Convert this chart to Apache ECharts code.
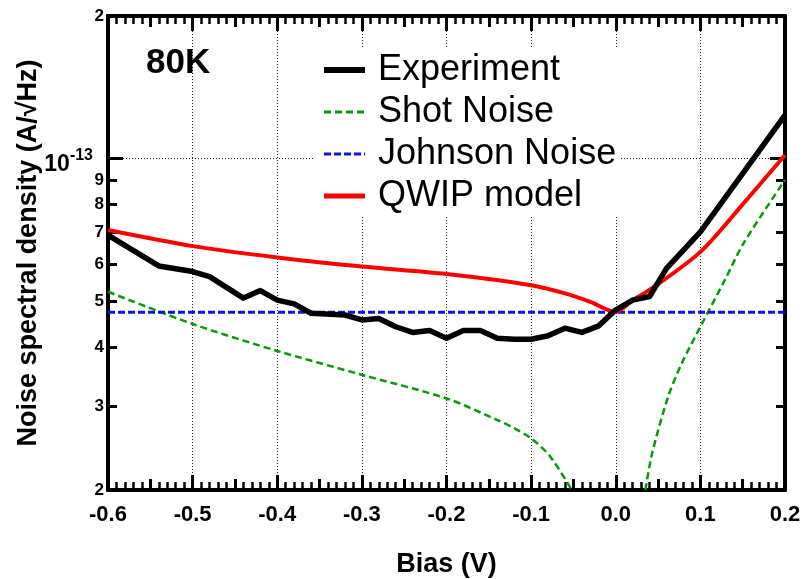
<!DOCTYPE html>
<html>
<head>
<meta charset="utf-8">
<script src="https://cdn.jsdelivr.net/npm/echarts@6/dist/echarts.min.js"></script>
<style>
  html, body { margin: 0; padding: 0; background: #fff; }
  #box { width: 805px; height: 579px; }
</style>
</head>
<body>
<div id="box"></div>
<script>
// values (noise in A/sqrt(Hz))
var expBias = [-0.6, -0.54, -0.5, -0.48, -0.44, -0.42, -0.4, -0.38, -0.36, -0.32, -0.3, -0.28, -0.26, -0.24, -0.22, -0.2, -0.18, -0.16, -0.14, -0.12, -0.1, -0.08, -0.06, -0.04, -0.02, 0, 0.02, 0.04, 0.06, 0.1, 0.2];
var expNoise = [6.9e-14, 5.94e-14, 5.78e-14, 5.64e-14, 5.08e-14, 5.27e-14, 5.03e-14, 4.94e-14, 4.72e-14, 4.68e-14, 4.57e-14, 4.6e-14, 4.42e-14, 4.3e-14, 4.34e-14, 4.18e-14, 4.34e-14, 4.34e-14, 4.18e-14, 4.16e-14, 4.16e-14, 4.23e-14, 4.39e-14, 4.3e-14, 4.44e-14, 4.8e-14, 5.03e-14, 5.12e-14, 5.87e-14, 7.01e-14, 1.236e-13];

var shotBiasNeg = [-0.6, -0.5, -0.4, -0.3, -0.2, -0.14, -0.12, -0.1, -0.078, -0.052];
var shotNoiseNeg = [5.24e-14, 4.48e-14, 3.93e-14, 3.5e-14, 3.12e-14, 2.81e-14, 2.7e-14, 2.57e-14, 2.36e-14, 2.0e-14];
var shotBiasPos = [0.035, 0.043, 0.062, 0.078, 0.1, 0.129, 0.151, 0.2];
var shotNoisePos = [2.0e-14, 2.39e-14, 3.15e-14, 3.7e-14, 4.42e-14, 5.55e-14, 6.63e-14, 9.02e-14];

var johnBias = [-0.6, 0.2];
var johnNoise = [4.74e-14, 4.74e-14];

var qwipBias = [-0.6, -0.5, -0.4, -0.3, -0.2, -0.1, -0.06, -0.03, 0, 0.02, 0.043, 0.1, 0.151, 0.2];
var qwipNoise = [7.07e-14, 6.54e-14, 6.19e-14, 5.92e-14, 5.71e-14, 5.41e-14, 5.2e-14, 4.99e-14, 4.75e-14, 5.03e-14, 5.33e-14, 6.36e-14, 8.05e-14, 1.018e-13];

var yTicks = [2e-14, 3e-14, 4e-14, 5e-14, 6e-14, 7e-14, 8e-14, 9e-14, 2e-13];
var yDecade = [1e-13];

function pairs(xs, ys) {
  return xs.map(function (x, i) { return [x, ys[i]]; });
}

var font = 'Liberation Sans';

function yLabel(v) {
  var e = Math.floor(Math.log10(v) + 1e-9);
  var m = Math.round(v / Math.pow(10, e));
  if (m === 1) return '{t|10}{s|' + e + '}';
  return '{n|' + m + '}';
}

function xAxisMaker(pos, step, tickLen, main) {
  return {
    type: 'value', position: pos, min: -0.6, max: 0.2, interval: step,
    axisLine: { show: main, onZero: false, lineStyle: { color: '#000', width: 4 } },
    axisTick: { show: true, inside: true, length: tickLen, lineStyle: { color: '#000', width: 3 } },
    minorTick: { show: main, splitNumber: 10, length: 8, lineStyle: { color: '#000', width: 2.5 } },
    axisLabel: {
      show: main && pos === 'bottom', margin: 14,
      fontFamily: font, fontSize: 22, fontWeight: 'bold', color: '#000',
      formatter: function (v) { return Math.abs(v) < 1e-9 ? '0.0' : v.toFixed(1); }
    },
    splitLine: { show: main && pos === 'bottom', lineStyle: { color: '#222', width: 1, type: [1, 2] } },
    name: main && pos === 'bottom' ? 'Bias (V)' : '',
    nameLocation: 'middle', nameGap: 61,
    nameTextStyle: { fontFamily: font, fontSize: 27, fontWeight: 'bold', color: '#000' }
  };
}

function yAxisMaker(pos, vals, tickLen, labels, grid) {
  return {
    type: 'log', logBase: 10, position: pos, min: 2e-14, max: 2e-13,
    axisLine: { show: true, onZero: false, lineStyle: { color: '#000', width: 4 } },
    axisTick: { show: true, inside: true, length: tickLen, customValues: vals, lineStyle: { color: '#000', width: 3 } },
    axisLabel: {
      show: labels, customValues: vals, margin: 4, formatter: yLabel,
      rich: {
        n: { fontFamily: font, fontSize: 17, fontWeight: 'bold', color: '#000' },
        t: { fontFamily: font, fontSize: 23, fontWeight: 'bold', color: '#000', padding: [12, 0, 0, 0] },
        s: { fontFamily: font, fontSize: 16, fontWeight: 'bold', color: '#000', padding: [0, 11, 6, 0] }
      }
    },
    splitLine: { show: grid, lineStyle: { color: '#222', width: 1, type: [1, 2] } },
    name: labels && pos === 'left' && vals.length > 1 ? 'Noise spectral density (A/\u221AHz)' : '',
    nameLocation: 'middle', nameGap: 66, nameRotate: 90,
    nameTextStyle: { fontFamily: font, fontSize: 27, fontWeight: 'bold', color: '#000' }
  };
}

var chart = echarts.init(document.getElementById('box'));
var option = {
  animation: false,
  backgroundColor: '#fff',
  title: {
    text: '80K', left: 146, top: 46, padding: 0,
    textStyle: { fontFamily: font, fontSize: 35, fontWeight: 'bold', color: '#000' }
  },
  legend: {
    orient: 'vertical', left: 315, top: 49, itemGap: 0, itemWidth: 41, itemHeight: 14,
    backgroundColor: '#fff', padding: [0, 4, 0, 6],
    itemStyle: { opacity: 0 },
    textStyle: { fontFamily: font, fontSize: 36, color: '#000', lineHeight: 42, padding: [0, 0, 0, 8] },
    data: [
      { name: 'Experiment', lineStyle: { width: 6 } },
      { name: 'Shot Noise', lineStyle: { width: 3 } },
      { name: 'Johnson Noise', lineStyle: { width: 3 } },
      { name: 'QWIP model', lineStyle: { width: 5 } }
    ]
  },
  grid: { left: 108, right: 20, top: 16, bottom: 89, containLabel: false, outerBoundsMode: 'none' },
  xAxis: [
    xAxisMaker('bottom', 0.1, 15, true),
    xAxisMaker('bottom', 0.05, 11, false),
    xAxisMaker('top', 0.1, 15, true),
    xAxisMaker('top', 0.05, 11, false)
  ],
  yAxis: [
    yAxisMaker('left', yTicks, 9, true, false),
    yAxisMaker('left', yDecade, 15, true, true),
    yAxisMaker('right', yTicks, 9, false, false),
    yAxisMaker('right', yDecade, 15, false, false)
  ],
  series: [
    {
      name: 'Shot Noise', type: 'line', data: pairs(shotBiasNeg, shotNoiseNeg),
      smooth: 0.3, symbol: 'none', color: '#069a06',
      lineStyle: { color: '#069a06', width: 2.5, type: [7, 4] }
    },
    {
      name: 'Shot Noise', type: 'line', data: pairs(shotBiasPos, shotNoisePos),
      smooth: 0.3, symbol: 'none', color: '#069a06',
      lineStyle: { color: '#069a06', width: 2.5, type: [7, 4] }
    },
    {
      name: 'Johnson Noise', type: 'line', data: pairs(johnBias, johnNoise),
      symbol: 'none', color: '#0a14e6',
      lineStyle: { color: '#0a14e6', width: 3, type: [7, 3] }
    },
    {
      name: 'QWIP model', type: 'line', data: pairs(qwipBias, qwipNoise),
      smooth: 0.3, symbol: 'none', color: '#ff0000',
      lineStyle: { color: '#ff0000', width: 4 }
    },
    {
      name: 'Experiment', type: 'line', data: pairs(expBias, expNoise),
      symbol: 'none', color: '#000',
      lineStyle: { color: '#000', width: 5.5, join: 'round' }
    }
  ]
};
chart.setOption(option);
</script>
</body>
</html>
